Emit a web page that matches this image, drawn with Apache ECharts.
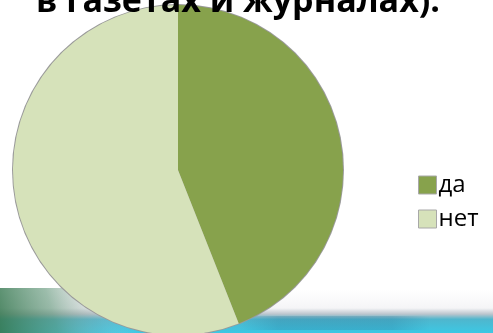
<!DOCTYPE html>
<html>
<head>
<meta charset="utf-8">
<style>
  html, body { margin: 0; padding: 0; background: #ffffff; }
  #chart { width: 493px; height: 333px; }
</style>
<script src="https://cdn.jsdelivr.net/npm/echarts@6/dist/echarts.min.js"></script>
</head>
<body>
<div id="chart"></div>
<script>
// Survey answers: share of respondents
const categories = ['да', 'нет'];
const values = [44, 56];
const sliceColors = ['#87a24c', '#d6e2ba'];
const titleText = 'в газетах и журналах).';

const chart = echarts.init(document.getElementById('chart'), null, { renderer: 'canvas' });

const pieData = categories.map((name, i) => ({
  name: name,
  value: values[i],
  itemStyle: { color: sliceColors[i] }
}));

chart.setOption({
  animation: false,
  backgroundColor: '#ffffff',
  graphic: [
    // decorative landscape strip along the bottom edge
    {
      type: 'rect', z: 0, silent: true,
      shape: { x: 0, y: 290, width: 493, height: 43 },
      style: {
        fill: new echarts.graphic.LinearGradient(0, 0, 0, 1, [
          { offset: 0, color: 'rgba(255,255,255,1)' },
          { offset: 0.42, color: '#f5f5f7' },
          { offset: 0.56, color: '#bcc5cd' },
          { offset: 0.68, color: '#4fb6cd' },
          { offset: 1, color: '#3cc8e4' }
        ])
      }
    },
    {
      type: 'rect', z: 0, silent: true,
      shape: { x: 0, y: 288, width: 170, height: 45 },
      style: {
        fill: new echarts.graphic.LinearGradient(0, 1, 0.9, 0, [
          { offset: 0, color: 'rgba(55,120,80,0.9)' },
          { offset: 0.35, color: 'rgba(90,145,115,0.6)' },
          { offset: 0.6, color: 'rgba(150,170,165,0.25)' },
          { offset: 0.85, color: 'rgba(255,255,255,0)' }
        ])
      }
    },
    {
      type: 'rect', z: 0, silent: true,
      shape: { x: 240, y: 316, width: 190, height: 14 },
      style: {
        fill: new echarts.graphic.LinearGradient(0, 0, 1, 0, [
          { offset: 0, color: 'rgba(30,100,140,0)' },
          { offset: 0.2, color: 'rgba(30,100,140,0.22)' },
          { offset: 0.8, color: 'rgba(30,100,140,0.22)' },
          { offset: 1, color: 'rgba(30,100,140,0)' }
        ])
      }
    },
    {
      type: 'text', z: 10, silent: true,
      style: {
        x: 238, y: 2,
        text: titleText,
        align: 'center', verticalAlign: 'middle',
        font: 'bold 34px "Open Sans", sans-serif',
        fill: '#000000'
      }
    }
  ],
  legend: {
    orient: 'vertical',
    left: 413,
    top: 168,
    icon: 'rect',
    itemWidth: 18,
    itemHeight: 18,
    itemGap: 10,
    selectedMode: false,
    itemStyle: { borderColor: '#a8a8a8', borderWidth: 1 },
    textStyle: { fontSize: 24, color: '#000000', fontFamily: '"Open Sans", sans-serif', padding: [0, 0, 0, -3] },
    data: categories
  },
  series: [
    {
      // thin outline around the pie
      type: 'pie', z: 1, silent: true,
      center: [178, 170], radius: 166,
      label: { show: false }, labelLine: { show: false },
      itemStyle: { color: '#9a9a9a' },
      data: [{ value: 1, name: '_outline' }],
      legendHoverLink: false
    },
    {
      type: 'pie', z: 2,
      center: [178, 170], radius: 165,
      startAngle: 90, clockwise: true,
      label: { show: false }, labelLine: { show: false },
      itemStyle: { borderWidth: 0 },
      data: pieData
    }
  ]
});
</script>
</body>
</html>
